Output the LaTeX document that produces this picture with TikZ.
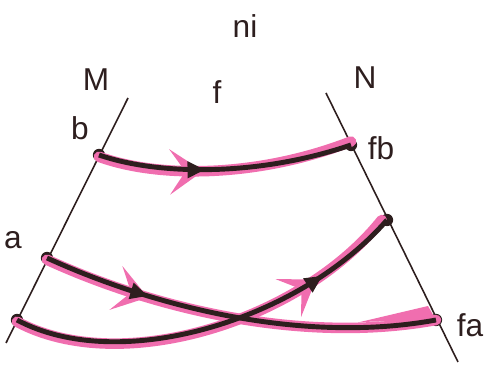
\documentclass[tikz,border=0pt]{standalone}
\usepackage{fontspec}
\setmainfont{Liberation Sans}
\usepackage{tikz}
\usetikzlibrary{arrows.meta,decorations.markings}
\definecolor{hlpink}{RGB}{240,110,175}
\definecolor{ink}{RGB}{45,30,30}

\begin{document}
\begin{tikzpicture}[
  x=0.02cm, y=-0.02cm,
  lbl/.style={font=\fontsize{18}{20}\selectfont, text=ink, inner sep=0pt},
  pt/.style={circle, fill=ink, inner sep=0pt, minimum size=7pt},
  axis/.style={ink, line width=0.9pt},
  hl/.style={hlpink, line width=6pt, line cap=round},
  crv/.style={ink, line width=2.8pt},
  midarr/.style={postaction={decorate, decoration={markings,
    mark=at position #1 with {\arrow{Triangle[length=10pt,width=9pt]}}}}},
  hlarr/.style={postaction={decorate, decoration={markings,
    mark=at position #1 with {\arrow[line width=0pt]{Stealth[length=19pt,width=26pt,inset=9pt]}}}}},
]
\useasboundingbox (0,0) rectangle (491,367);
% the two lines
\coordinate (Mtop) at (128,98);
\coordinate (Mbot) at (6,343);
\coordinate (Ntop) at (326,93);
\coordinate (Nbot) at (458,362);
\draw[axis] (Mtop) -- (Mbot);
\draw[axis] (Ntop) -- (Nbot);
% points
\node[pt] (b) at (99,155) {};
\node[pt] (a) at (47,258) {};
\node[pt] (c) at (17,320) {};
\node[pt] (fb) at (351,145) {};
\node[pt] (fc) at (387,220) {};
\node[pt] (fa) at (436,320) {};
% highlights
\fill[hlpink] (360,322) -- (428,306) -- (436,320) -- cycle;
\draw[hl, hlarr=0.41] ([yshift=-1pt]b.center) .. controls (160,179) and (260,177) .. ([yshift=2pt]fb.center);
\draw[hl, hlarr=0.27] ([yshift=-1pt]a.center) .. controls (150,307) and (300,345) .. (fa.center);
\draw[hl, hlarr=0.78] ([yshift=-1pt]c.center) .. controls (120,377) and (300,322) .. ([xshift=-3pt]fc.center);
% curves
\draw[crv, midarr=0.42] (b.center) .. controls (160,176) and (260,176) .. (fb.center);
\draw[crv, midarr=0.27] (a.center) .. controls (150,305) and (300,345) .. (fa.center);
\draw[crv, midarr=0.79] (c.center) .. controls (120,375) and (300,320) .. (fc.center);
% labels
\node[lbl] (ni) at (245,26) {ni};
\node[lbl] (Mlbl) at (96,80) {M};
\node[lbl] (flbl) at (217,92) {f};
\node[lbl] (Nlbl) at (365,78) {N};
\node[lbl] (blbl) at (80,128) {b};
\node[lbl] (fblbl) at (381,148) {fb};
\node[lbl] (albl) at (13,240) {a};
\node[lbl] (falbl) at (470,325) {fa};
\end{tikzpicture}
\end{document}
